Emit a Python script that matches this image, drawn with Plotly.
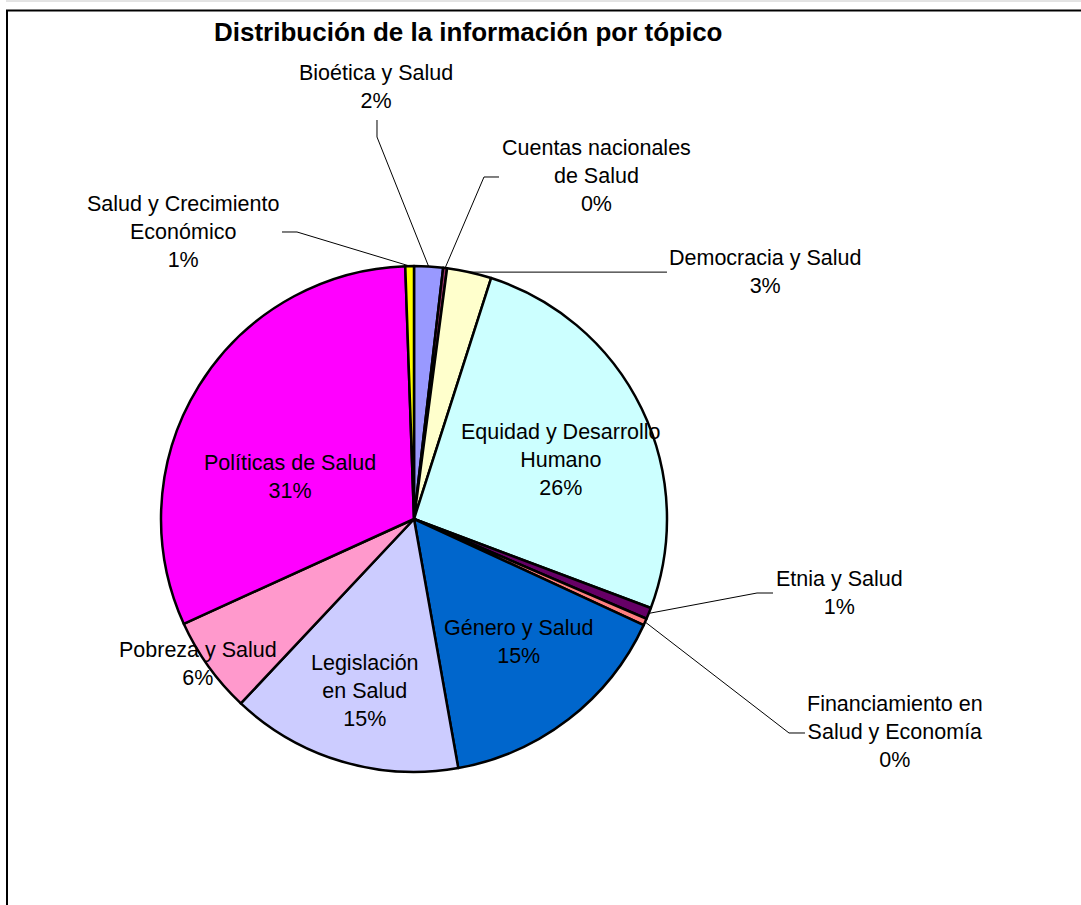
import math
import plotly.graph_objects as go

W, H = 1081, 905

# ---------------- data ----------------
categories = [
    "Bioética y Salud",
    "Cuentas nacionales de Salud",
    "Democracia y Salud",
    "Equidad y Desarrollo Humano",
    "Etnia y Salud",
    "Financiamiento en Salud y Economía",
    "Género y Salud",
    "Legislación en Salud",
    "Pobreza y Salud",
    "Políticas de Salud",
    "Salud y Crecimiento Económico",
]
values = [1.84, 0.25, 2.84, 25.79, 0.73, 0.44, 15.31, 14.80, 6.20, 31.25, 0.55]
label_text = [
    "Bioética y Salud",
    "Cuentas nacionales<br>de Salud",
    "Democracia y Salud",
    "Equidad y Desarrollo<br>Humano",
    "Etnia y Salud",
    "Financiamiento en<br>Salud y Economía",
    "Género y Salud",
    "Legislación<br>en Salud",
    "Pobreza y Salud",
    "Políticas de Salud",
    "Salud y Crecimiento<br>Económico",
]
colors = ["#9999FF", "#993366", "#FFFFCC", "#CCFFFF", "#660066", "#FF8080",
          "#0066CC", "#CCCCFF", "#FF99CC", "#FF00FF", "#FFFF00"]

# ---------------- layout constants (pixels) ----------------
CX, CY, R = 414, 519, 253
label_pos = [(376, 87), (596, 176), (765, 272), (561, 459.5), (839, 593),
             (895, 732), (518, 641.5), (365, 691), (198, 663.5), (290, 476.5),
             (183, 232)]
leader_elbows = {
    0: [(377, 137), (377, 120)],
    1: [(484, 177), (499, 177)],
    2: [(667, None)],
    4: [(757, 593), (773, 593)],
    5: [(789, 733), (805, 733)],
    10: [(297, 232), (282, 232)],
}

def px(x):
    return x / W

def py(y):
    return 1 - y / H

total = sum(values)

fig = go.Figure(go.Pie(
    labels=categories,
    values=values,
    sort=False,
    direction="clockwise",
    rotation=0,
    marker=dict(colors=colors, line=dict(color="black", width=2.5)),
    textinfo="none",
    hovertemplate="%{label}<br>%{percent}<extra></extra>",
    domain=dict(x=[px(CX - R), px(CX + R)], y=[py(CY + R), py(CY - R)]),
    showlegend=False,
))

annotations = []
for i, (name, v) in enumerate(zip(label_text, values)):
    pct = round(v / total * 100)
    x, y = label_pos[i]
    annotations.append(dict(
        x=px(x), y=py(y), xref="paper", yref="paper",
        text=f"{name}<br>{pct}%", showarrow=False,
        xanchor="center", yanchor="middle", align="center",
        font=dict(family="Liberation Sans, Arial, sans-serif", size=21.5, color="black"),
    ))

annotations.append(dict(
    x=px(468), y=py(32), xref="paper", yref="paper",
    text="<b>Distribución de la información por tópico</b>", showarrow=False,
    xanchor="center", yanchor="middle",
    font=dict(family="Liberation Sans, Arial, sans-serif", size=26, color="black"),
))

shapes = []
# leader lines anchored at each slice's mid-angle on the pie edge
cum = 0.0
for i, v in enumerate(values):
    mid = (cum + v / 2) / total * 2 * math.pi
    cum += v
    if i not in leader_elbows:
        continue
    ax = CX + R * math.sin(mid)
    ay = CY - R * math.cos(mid)
    pts = [(ax, ay)] + [(ex, ay if ey is None else ey) for ex, ey in leader_elbows[i]]
    path = "M " + " L ".join(f"{px(a):.5f},{py(b):.5f}" for a, b in pts)
    shapes.append(dict(type="path", xref="paper", yref="paper", path=path,
                       line=dict(color="black", width=1)))

# chart frame
shapes.append(dict(type="rect", xref="paper", yref="paper",
                   x0=px(7), x1=1.02, y0=-0.02, y1=py(10.5),
                   line=dict(color="black", width=2)))
shapes.append(dict(type="line", xref="paper", yref="paper",
                   x0=px(6), x1=1.0, y0=py(1), y1=py(1),
                   line=dict(color="#c8c8c8", width=1)))

fig.update_layout(
    width=W, height=H, autosize=False,
    margin=dict(l=0, r=0, t=0, b=0),
    paper_bgcolor="white", plot_bgcolor="white",
    annotations=annotations, shapes=shapes,
)

fig.write_html("out.html",
               config={"displayModeBar": False},
               post_script="document.body.style.margin='0';document.body.style.overflow='hidden';")
